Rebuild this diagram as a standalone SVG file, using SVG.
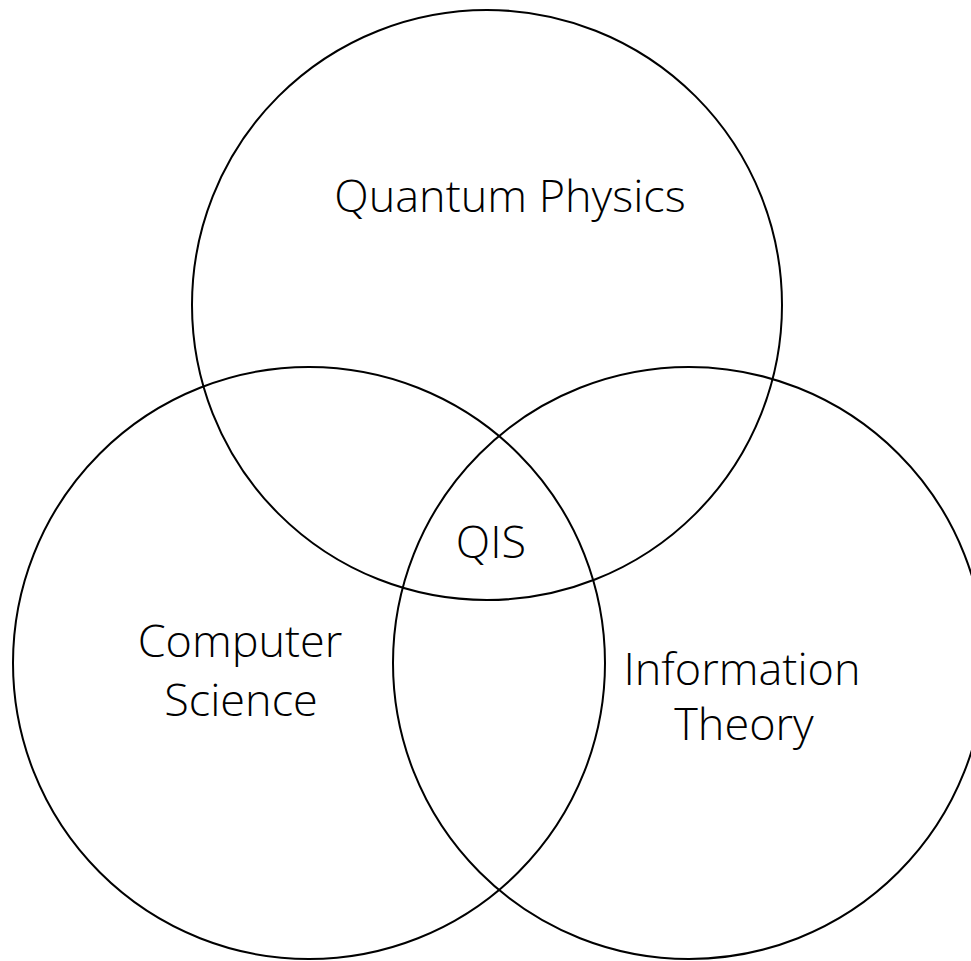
<svg xmlns="http://www.w3.org/2000/svg" width="971" height="961" viewBox="0 0 971 961">
<style>
.c{fill:none;stroke:#000;stroke-width:2}
.t{font-family:"Open Sans","Noto Sans","Liberation Sans",sans-serif;font-size:45px;font-weight:300;fill:#000;text-anchor:middle}
</style>
<rect width="971" height="961" fill="#fff"/>
<g id="quantum-physics">
<circle class="c" cx="487" cy="305" r="295"/>
<text class="t" x="510" y="212">Quantum Physics</text>
</g>
<g id="computer-science">
<circle class="c" cx="309" cy="663" r="296"/>
<text class="t" x="240" y="657">Computer</text>
<text class="t" x="241" y="716">Science</text>
</g>
<g id="information-theory">
<circle class="c" cx="689" cy="663" r="296"/>
<text class="t" x="742" y="685">Information</text>
<text class="t" x="744" y="740">Theory</text>
</g>
<g id="qis">
<text class="t" x="491" y="558">QIS</text>
</g>
</svg>
